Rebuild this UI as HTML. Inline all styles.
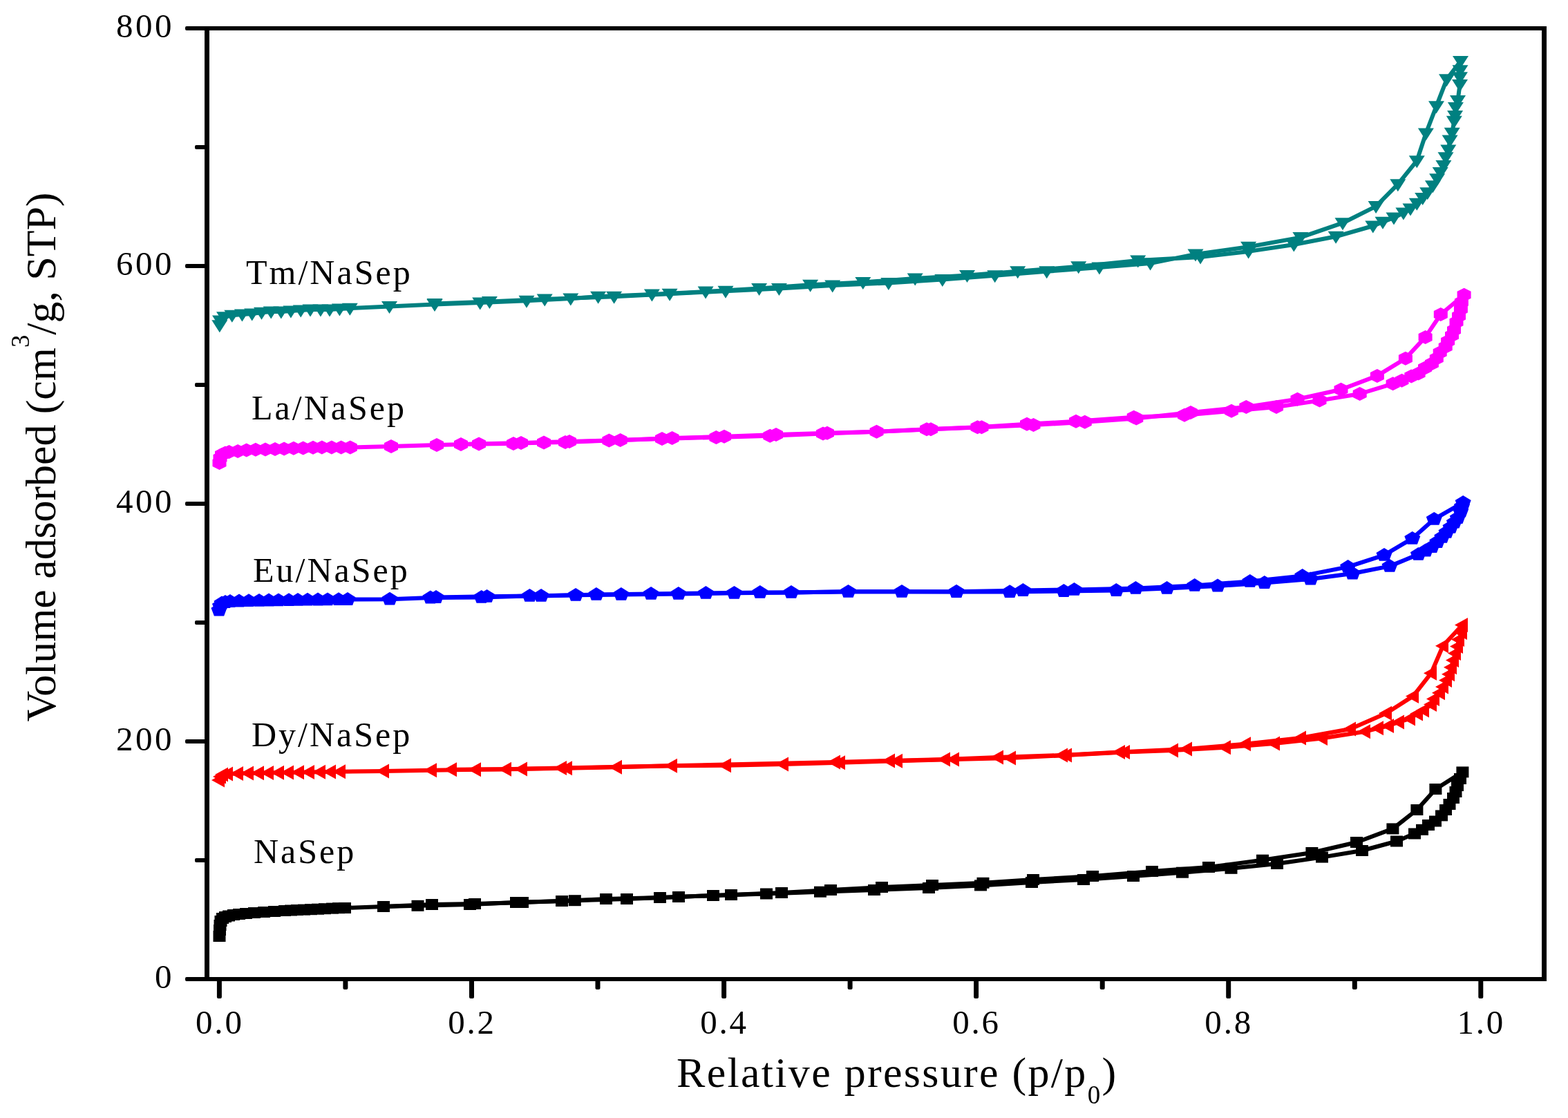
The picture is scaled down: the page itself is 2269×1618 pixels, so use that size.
<!DOCTYPE html>
<html><head><meta charset="utf-8"><title>N2 adsorption isotherms</title>
<style>html,body{margin:0;padding:0;background:#fff;}body{width:2269px;height:1618px;overflow:hidden;}</style>
</head><body>
<svg width="2269" height="1618" viewBox="0 0 2269 1618" style="display:block;font-family:'Liberation Serif', 'Times New Roman', serif"><rect x="296" y="38" width="7" height="1382" fill="#000"/>
<rect x="2231" y="38" width="7" height="1382" fill="#000"/>
<rect x="296" y="38" width="1942" height="6" fill="#000"/>
<rect x="296" y="1414" width="1942" height="6" fill="#000"/>
<rect x="268" y="1414.0" width="30" height="6" rx="2" fill="#000"/>
<rect x="282" y="1242.0" width="16" height="6" rx="2" fill="#000"/>
<rect x="268" y="1070.0" width="30" height="6" rx="2" fill="#000"/>
<rect x="282" y="898.0" width="16" height="6" rx="2" fill="#000"/>
<rect x="268" y="726.0" width="30" height="6" rx="2" fill="#000"/>
<rect x="282" y="554.0" width="16" height="6" rx="2" fill="#000"/>
<rect x="268" y="382.0" width="30" height="6" rx="2" fill="#000"/>
<rect x="282" y="210.0" width="16" height="6" rx="2" fill="#000"/>
<rect x="268" y="38.0" width="30" height="6" rx="2" fill="#000"/>
<rect x="313.9" y="1416" width="7" height="29" rx="2" fill="#000"/>
<rect x="496.4" y="1416" width="7" height="16" rx="2" fill="#000"/>
<rect x="679.0" y="1416" width="7" height="29" rx="2" fill="#000"/>
<rect x="861.5" y="1416" width="7" height="16" rx="2" fill="#000"/>
<rect x="1044.1" y="1416" width="7" height="29" rx="2" fill="#000"/>
<rect x="1226.6" y="1416" width="7" height="16" rx="2" fill="#000"/>
<rect x="1409.1" y="1416" width="7" height="29" rx="2" fill="#000"/>
<rect x="1591.7" y="1416" width="7" height="16" rx="2" fill="#000"/>
<rect x="1774.2" y="1416" width="7" height="29" rx="2" fill="#000"/>
<rect x="1956.8" y="1416" width="7" height="16" rx="2" fill="#000"/>
<rect x="2139.3" y="1416" width="7" height="29" rx="2" fill="#000"/>
<text x="252" y="1430.0" text-anchor="end" style="font-size:49px;letter-spacing:3.5px">0</text>
<text x="252" y="1086.0" text-anchor="end" style="font-size:49px;letter-spacing:3.5px">200</text>
<text x="252" y="742.0" text-anchor="end" style="font-size:49px;letter-spacing:3.5px">400</text>
<text x="252" y="398.0" text-anchor="end" style="font-size:49px;letter-spacing:3.5px">600</text>
<text x="252" y="54.0" text-anchor="end" style="font-size:49px;letter-spacing:3.5px">800</text>
<text x="317.9" y="1496" text-anchor="middle" style="font-size:49px;letter-spacing:2.8px">0.0</text>
<text x="683.0" y="1496" text-anchor="middle" style="font-size:49px;letter-spacing:2.8px">0.2</text>
<text x="1048.1" y="1496" text-anchor="middle" style="font-size:49px;letter-spacing:2.8px">0.4</text>
<text x="1413.1" y="1496" text-anchor="middle" style="font-size:49px;letter-spacing:2.8px">0.6</text>
<text x="1778.2" y="1496" text-anchor="middle" style="font-size:49px;letter-spacing:2.8px">0.8</text>
<text x="2143.3" y="1496" text-anchor="middle" style="font-size:49px;letter-spacing:2.8px">1.0</text>
<text x="979" y="1573" style="font-size:62px;letter-spacing:2.3px">Relative pressure (p/p<tspan dy="23.5" style="font-size:37px">0</tspan><tspan dy="-23.5">)</tspan></text>
<text transform="translate(80,1044.5) rotate(-90)" x="0" y="0" style="font-size:62px;letter-spacing:-0.08px">Volume adsorbed (cm<tspan dy="-38" style="font-size:37px">3</tspan><tspan dy="38">/g, STP)</tspan></text>
<text x="356" y="411" style="font-size:50px;letter-spacing:3px">Tm/NaSep</text>
<text x="364" y="607" style="font-size:50px;letter-spacing:3px">La/NaSep</text>
<text x="366" y="842" style="font-size:50px;letter-spacing:3px">Eu/NaSep</text>
<text x="364" y="1080" style="font-size:50px;letter-spacing:3px">Dy/NaSep</text>
<text x="367" y="1248.5" style="font-size:50px;letter-spacing:3px">NaSep</text>
<g fill="#000000" stroke="none">
<polyline points="317.5,1355 318,1346 318.5,1339 319.5,1333 322,1329 326,1327 331,1325.5 338,1324 346,1323 356,1322 368,1321 382,1320 397,1319 412,1318 421,1317.5 430,1317 440,1316.6 450,1316.2 460,1315.7 470,1315.2 481,1314.6 490,1314.2 499,1314 555,1312 604.5,1310.8 680,1309 747,1306 813,1304 877,1301 955,1299 1032,1296 1109,1293.5 1187,1290.7 1265,1288 1344,1285 1419,1281.4 1493,1277 1568,1273 1640,1268 1711,1262.7 1781.5,1256.8 1848,1250 1913,1240.6 1971,1231 2021,1217.5 2047,1206.5 2058,1200.8 2067,1194 2077,1188.5 2086,1180.4 2092,1172 2097.5,1164 2103,1155 2106.5,1146 2109,1137 2113,1127 2116.4,1117.4" fill="none" stroke="#000000" stroke-width="6" stroke-linejoin="round"/>
<polyline points="2116.4,1117.4 2077.4,1142 2050.4,1172 2015.4,1199.4 1963,1219 1898.4,1234 1827,1244.7 1749,1255 1667,1261 1581,1268 1495,1273 1422.5,1277.8 1349,1281 1276,1284 1202,1288 1131,1292 1058,1295 982,1298 907,1301 831.8,1303.2 756,1306 687,1308 625,1309 555,1312" fill="none" stroke="#000000" stroke-width="6" stroke-linejoin="round"/>
<polygon points="308.5,1347 326.5,1347 326.5,1363 308.5,1363"/>
<polygon points="309,1338 327,1338 327,1354 309,1354"/>
<polygon points="309.5,1331 327.5,1331 327.5,1347 309.5,1347"/>
<polygon points="310.5,1325 328.5,1325 328.5,1341 310.5,1341"/>
<polygon points="313,1321 331,1321 331,1337 313,1337"/>
<polygon points="317,1319 335,1319 335,1335 317,1335"/>
<polygon points="322,1317.5 340,1317.5 340,1333.5 322,1333.5"/>
<polygon points="329,1316 347,1316 347,1332 329,1332"/>
<polygon points="337,1315 355,1315 355,1331 337,1331"/>
<polygon points="347,1314 365,1314 365,1330 347,1330"/>
<polygon points="359,1313 377,1313 377,1329 359,1329"/>
<polygon points="373,1312 391,1312 391,1328 373,1328"/>
<polygon points="388,1311 406,1311 406,1327 388,1327"/>
<polygon points="403,1310 421,1310 421,1326 403,1326"/>
<polygon points="412,1309.5 430,1309.5 430,1325.5 412,1325.5"/>
<polygon points="421,1309 439,1309 439,1325 421,1325"/>
<polygon points="431,1308.6 449,1308.6 449,1324.6 431,1324.6"/>
<polygon points="441,1308.2 459,1308.2 459,1324.2 441,1324.2"/>
<polygon points="451,1307.7 469,1307.7 469,1323.7 451,1323.7"/>
<polygon points="461,1307.2 479,1307.2 479,1323.2 461,1323.2"/>
<polygon points="472,1306.6 490,1306.6 490,1322.6 472,1322.6"/>
<polygon points="481,1306.2 499,1306.2 499,1322.2 481,1322.2"/>
<polygon points="490,1306 508,1306 508,1322 490,1322"/>
<polygon points="546,1304 564,1304 564,1320 546,1320"/>
<polygon points="595.5,1302.8 613.5,1302.8 613.5,1318.8 595.5,1318.8"/>
<polygon points="671,1301 689,1301 689,1317 671,1317"/>
<polygon points="738,1298 756,1298 756,1314 738,1314"/>
<polygon points="804,1296 822,1296 822,1312 804,1312"/>
<polygon points="868,1293 886,1293 886,1309 868,1309"/>
<polygon points="946,1291 964,1291 964,1307 946,1307"/>
<polygon points="1023,1288 1041,1288 1041,1304 1023,1304"/>
<polygon points="1100,1285.5 1118,1285.5 1118,1301.5 1100,1301.5"/>
<polygon points="1178,1282.7 1196,1282.7 1196,1298.7 1178,1298.7"/>
<polygon points="1256,1280 1274,1280 1274,1296 1256,1296"/>
<polygon points="1335,1277 1353,1277 1353,1293 1335,1293"/>
<polygon points="1410,1273.4 1428,1273.4 1428,1289.4 1410,1289.4"/>
<polygon points="1484,1269 1502,1269 1502,1285 1484,1285"/>
<polygon points="1559,1265 1577,1265 1577,1281 1559,1281"/>
<polygon points="1631,1260 1649,1260 1649,1276 1631,1276"/>
<polygon points="1702,1254.7 1720,1254.7 1720,1270.7 1702,1270.7"/>
<polygon points="1772.5,1248.8 1790.5,1248.8 1790.5,1264.8 1772.5,1264.8"/>
<polygon points="1839,1242 1857,1242 1857,1258 1839,1258"/>
<polygon points="1904,1232.6 1922,1232.6 1922,1248.6 1904,1248.6"/>
<polygon points="1962,1223 1980,1223 1980,1239 1962,1239"/>
<polygon points="2012,1209.5 2030,1209.5 2030,1225.5 2012,1225.5"/>
<polygon points="2038,1198.5 2056,1198.5 2056,1214.5 2038,1214.5"/>
<polygon points="2049,1192.8 2067,1192.8 2067,1208.8 2049,1208.8"/>
<polygon points="2058,1186 2076,1186 2076,1202 2058,1202"/>
<polygon points="2068,1180.5 2086,1180.5 2086,1196.5 2068,1196.5"/>
<polygon points="2077,1172.4 2095,1172.4 2095,1188.4 2077,1188.4"/>
<polygon points="2083,1164 2101,1164 2101,1180 2083,1180"/>
<polygon points="2088.5,1156 2106.5,1156 2106.5,1172 2088.5,1172"/>
<polygon points="2094,1147 2112,1147 2112,1163 2094,1163"/>
<polygon points="2097.5,1138 2115.5,1138 2115.5,1154 2097.5,1154"/>
<polygon points="2100,1129 2118,1129 2118,1145 2100,1145"/>
<polygon points="2104,1119 2122,1119 2122,1135 2104,1135"/>
<polygon points="2107.4,1109.4 2125.4,1109.4 2125.4,1125.4 2107.4,1125.4"/>
<polygon points="2068.4,1134 2086.4,1134 2086.4,1150 2068.4,1150"/>
<polygon points="2041.4,1164 2059.4,1164 2059.4,1180 2041.4,1180"/>
<polygon points="2006.4,1191.4 2024.4,1191.4 2024.4,1207.4 2006.4,1207.4"/>
<polygon points="1954,1211 1972,1211 1972,1227 1954,1227"/>
<polygon points="1889.4,1226 1907.4,1226 1907.4,1242 1889.4,1242"/>
<polygon points="1818,1236.7 1836,1236.7 1836,1252.7 1818,1252.7"/>
<polygon points="1740,1247 1758,1247 1758,1263 1740,1263"/>
<polygon points="1658,1253 1676,1253 1676,1269 1658,1269"/>
<polygon points="1572,1260 1590,1260 1590,1276 1572,1276"/>
<polygon points="1486,1265 1504,1265 1504,1281 1486,1281"/>
<polygon points="1413.5,1269.8 1431.5,1269.8 1431.5,1285.8 1413.5,1285.8"/>
<polygon points="1340,1273 1358,1273 1358,1289 1340,1289"/>
<polygon points="1267,1276 1285,1276 1285,1292 1267,1292"/>
<polygon points="1193,1280 1211,1280 1211,1296 1193,1296"/>
<polygon points="1122,1284 1140,1284 1140,1300 1122,1300"/>
<polygon points="1049,1287 1067,1287 1067,1303 1049,1303"/>
<polygon points="973,1290 991,1290 991,1306 973,1306"/>
<polygon points="898,1293 916,1293 916,1309 898,1309"/>
<polygon points="822.8,1295.2 840.8,1295.2 840.8,1311.2 822.8,1311.2"/>
<polygon points="747,1298 765,1298 765,1314 747,1314"/>
<polygon points="678,1300 696,1300 696,1316 678,1316"/>
<polygon points="616,1301 634,1301 634,1317 616,1317"/>
</g>
<g fill="#ff0000" stroke="none">
<polyline points="317,1129 319,1124 322,1121 329,1120 344,1119.5 359,1119 374,1118.8 388,1118.5 403,1118.3 417,1118 432,1117.8 447,1117.6 463,1117.3 478,1117 492,1116.8 555,1115.9 624,1114.7 688,1113.8 755,1112.9 820,1111.8 892,1110.3 972,1108.2 1050,1107.8 1133,1105.9 1215,1103.7 1298,1101.3 1380,1099 1462,1096.9 1543,1093 1627,1088.5 1697,1086 1773,1081.7 1844,1075.9 1913,1068.5 1975,1058.8 1994,1053.8 2009,1050.5 2024,1045 2040,1040 2051,1033 2060,1028 2071,1019.6 2075,1011.6 2083,1002.7 2088,994 2093,984.6 2097,975.7 2100,965.7 2103,955.6 2106,945.6 2109,935.6 2111,925.6 2115,915.6 2116,904.5" fill="none" stroke="#ff0000" stroke-width="6" stroke-linejoin="round"/>
<polyline points="2116,904.5 2088,934.8 2071,974.2 2045,1007.4 2006,1032.2 1954,1055 1882,1068 1802,1076.8 1717,1084 1620,1088.5 1537,1093 1444,1095.9 1367,1099 1287,1100.9 1208,1103 812,1111.6 732,1113.2 653,1113.8" fill="none" stroke="#ff0000" stroke-width="6" stroke-linejoin="round"/>
<polygon points="306,1129 325,1118.5 325,1139.5"/>
<polygon points="308,1124 327,1113.5 327,1134.5"/>
<polygon points="311,1121 330,1110.5 330,1131.5"/>
<polygon points="318,1120 337,1109.5 337,1130.5"/>
<polygon points="333,1119.5 352,1109 352,1130"/>
<polygon points="348,1119 367,1108.5 367,1129.5"/>
<polygon points="363,1118.8 382,1108.3 382,1129.3"/>
<polygon points="377,1118.5 396,1108 396,1129"/>
<polygon points="392,1118.3 411,1107.8 411,1128.8"/>
<polygon points="406,1118 425,1107.5 425,1128.5"/>
<polygon points="421,1117.8 440,1107.3 440,1128.3"/>
<polygon points="436,1117.6 455,1107.1 455,1128.1"/>
<polygon points="452,1117.3 471,1106.8 471,1127.8"/>
<polygon points="467,1117 486,1106.5 486,1127.5"/>
<polygon points="481,1116.8 500,1106.3 500,1127.3"/>
<polygon points="544,1115.9 563,1105.4 563,1126.4"/>
<polygon points="613,1114.7 632,1104.2 632,1125.2"/>
<polygon points="677,1113.8 696,1103.3 696,1124.3"/>
<polygon points="744,1112.9 763,1102.4 763,1123.4"/>
<polygon points="809,1111.8 828,1101.3 828,1122.3"/>
<polygon points="881,1110.3 900,1099.8 900,1120.8"/>
<polygon points="961,1108.2 980,1097.7 980,1118.7"/>
<polygon points="1039,1107.8 1058,1097.3 1058,1118.3"/>
<polygon points="1122,1105.9 1141,1095.4 1141,1116.4"/>
<polygon points="1204,1103.7 1223,1093.2 1223,1114.2"/>
<polygon points="1287,1101.3 1306,1090.8 1306,1111.8"/>
<polygon points="1369,1099 1388,1088.5 1388,1109.5"/>
<polygon points="1451,1096.9 1470,1086.4 1470,1107.4"/>
<polygon points="1532,1093 1551,1082.5 1551,1103.5"/>
<polygon points="1616,1088.5 1635,1078 1635,1099"/>
<polygon points="1686,1086 1705,1075.5 1705,1096.5"/>
<polygon points="1762,1081.7 1781,1071.2 1781,1092.2"/>
<polygon points="1833,1075.9 1852,1065.4 1852,1086.4"/>
<polygon points="1902,1068.5 1921,1058 1921,1079"/>
<polygon points="1964,1058.8 1983,1048.3 1983,1069.3"/>
<polygon points="1983,1053.8 2002,1043.3 2002,1064.3"/>
<polygon points="1998,1050.5 2017,1040 2017,1061"/>
<polygon points="2013,1045 2032,1034.5 2032,1055.5"/>
<polygon points="2029,1040 2048,1029.5 2048,1050.5"/>
<polygon points="2040,1033 2059,1022.5 2059,1043.5"/>
<polygon points="2049,1028 2068,1017.5 2068,1038.5"/>
<polygon points="2060,1019.6 2079,1009.1 2079,1030.1"/>
<polygon points="2064,1011.6 2083,1001.1 2083,1022.1"/>
<polygon points="2072,1002.7 2091,992.2 2091,1013.2"/>
<polygon points="2077,994 2096,983.5 2096,1004.5"/>
<polygon points="2082,984.6 2101,974.1 2101,995.1"/>
<polygon points="2086,975.7 2105,965.2 2105,986.2"/>
<polygon points="2089,965.7 2108,955.2 2108,976.2"/>
<polygon points="2092,955.6 2111,945.1 2111,966.1"/>
<polygon points="2095,945.6 2114,935.1 2114,956.1"/>
<polygon points="2098,935.6 2117,925.1 2117,946.1"/>
<polygon points="2100,925.6 2119,915.1 2119,936.1"/>
<polygon points="2104,915.6 2123,905.1 2123,926.1"/>
<polygon points="2105,904.5 2124,894 2124,915"/>
<polygon points="2077,934.8 2096,924.3 2096,945.3"/>
<polygon points="2060,974.2 2079,963.7 2079,984.7"/>
<polygon points="2034,1007.4 2053,996.9 2053,1017.9"/>
<polygon points="1995,1032.2 2014,1021.7 2014,1042.7"/>
<polygon points="1943,1055 1962,1044.5 1962,1065.5"/>
<polygon points="1871,1068 1890,1057.5 1890,1078.5"/>
<polygon points="1791,1076.8 1810,1066.3 1810,1087.3"/>
<polygon points="1706,1084 1725,1073.5 1725,1094.5"/>
<polygon points="1609,1088.5 1628,1078 1628,1099"/>
<polygon points="1526,1093 1545,1082.5 1545,1103.5"/>
<polygon points="1433,1095.9 1452,1085.4 1452,1106.4"/>
<polygon points="1356,1099 1375,1088.5 1375,1109.5"/>
<polygon points="1276,1100.9 1295,1090.4 1295,1111.4"/>
<polygon points="1197,1103 1216,1092.5 1216,1113.5"/>
<polygon points="801,1111.6 820,1101.1 820,1122.1"/>
<polygon points="721,1113.2 740,1102.7 740,1123.7"/>
<polygon points="642,1113.8 661,1103.3 661,1124.3"/>
</g>
<g fill="#0000ff" stroke="none">
<polyline points="317,883 318.5,877 321,873 326,871.5 333,870.5 346,870 360,869.6 375,869.3 389,869 403,868.8 418,868.6 431,868.4 445,868.2 460,868 474,867.8 490,867.6 503,867.5 564,867.2 622.9,865 696.7,864.4 766.5,862.4 833.1,861.3 898.9,860.4 981.8,859.4 1062.5,858.3 1145,857.4 1227.5,856.3 1305,856.3 1384,856.5 1461.2,856.6 1539.4,855.5 1615.3,854.5 1688.6,851.4 1762,848 1829.8,843.5 1896.5,838 1957.2,830 2011,819.4 2052.4,802.4 2063,797 2072,791.6 2079.8,784.5 2086.8,777.4 2093,770.4 2099,763.3 2104.4,756.2 2109.3,749.6 2113.7,740 2115.5,733 2117.2,727.3" fill="none" stroke="#0000ff" stroke-width="6" stroke-linejoin="round"/>
<polyline points="2117.2,727.3 2075.3,751.3 2043.8,779.3 2003,803.3 1950.6,820.4 1884.7,833.4 1808.8,841.4 1728.7,847.4 1643.4,851.4 1554.5,853.4 1480.4,854.5 1384.1,856.3 1305,856.3 1227.5,856.3 1145,857.4 1099.8,857.4 1021.4,858.4 942.1,859.4 862.9,860.4 783.1,862.4 704.6,863.3 631,864.5" fill="none" stroke="#0000ff" stroke-width="6" stroke-linejoin="round"/>
<polygon points="317,872.6 328.5,879.8 324.1,891.4 309.9,891.4 305.5,879.8"/>
<polygon points="318.5,866.6 330,873.8 325.6,885.4 311.4,885.4 307,873.8"/>
<polygon points="321,862.6 332.5,869.8 328.1,881.4 313.9,881.4 309.5,869.8"/>
<polygon points="326,861.1 337.5,868.3 333.1,879.9 318.9,879.9 314.5,868.3"/>
<polygon points="333,860.1 344.5,867.3 340.1,878.9 325.9,878.9 321.5,867.3"/>
<polygon points="346,859.6 357.5,866.8 353.1,878.4 338.9,878.4 334.5,866.8"/>
<polygon points="360,859.2 371.5,866.4 367.1,878 352.9,878 348.5,866.4"/>
<polygon points="375,858.9 386.5,866.1 382.1,877.7 367.9,877.7 363.5,866.1"/>
<polygon points="389,858.6 400.5,865.8 396.1,877.4 381.9,877.4 377.5,865.8"/>
<polygon points="403,858.4 414.5,865.6 410.1,877.2 395.9,877.2 391.5,865.6"/>
<polygon points="418,858.2 429.5,865.4 425.1,877 410.9,877 406.5,865.4"/>
<polygon points="431,858 442.5,865.2 438.1,876.8 423.9,876.8 419.5,865.2"/>
<polygon points="445,857.8 456.5,865 452.1,876.6 437.9,876.6 433.5,865"/>
<polygon points="460,857.6 471.5,864.8 467.1,876.4 452.9,876.4 448.5,864.8"/>
<polygon points="474,857.4 485.5,864.6 481.1,876.2 466.9,876.2 462.5,864.6"/>
<polygon points="490,857.2 501.5,864.4 497.1,876 482.9,876 478.5,864.4"/>
<polygon points="503,857.1 514.5,864.3 510.1,875.9 495.9,875.9 491.5,864.3"/>
<polygon points="564,856.8 575.5,864 571.1,875.6 556.9,875.6 552.5,864"/>
<polygon points="622.9,854.6 634.4,861.8 630,873.4 615.8,873.4 611.4,861.8"/>
<polygon points="696.7,854 708.2,861.2 703.8,872.8 689.6,872.8 685.2,861.2"/>
<polygon points="766.5,852 778,859.2 773.6,870.8 759.4,870.8 755,859.2"/>
<polygon points="833.1,850.9 844.6,858.1 840.2,869.7 826,869.7 821.6,858.1"/>
<polygon points="898.9,850 910.4,857.2 906,868.8 891.8,868.8 887.4,857.2"/>
<polygon points="981.8,849 993.3,856.2 988.9,867.8 974.7,867.8 970.3,856.2"/>
<polygon points="1062.5,847.9 1074,855.1 1069.6,866.7 1055.4,866.7 1051,855.1"/>
<polygon points="1145,847 1156.5,854.2 1152.1,865.8 1137.9,865.8 1133.5,854.2"/>
<polygon points="1227.5,845.9 1239,853.1 1234.6,864.7 1220.4,864.7 1216,853.1"/>
<polygon points="1305,845.9 1316.5,853.1 1312.1,864.7 1297.9,864.7 1293.5,853.1"/>
<polygon points="1384,846.1 1395.5,853.3 1391.1,864.9 1376.9,864.9 1372.5,853.3"/>
<polygon points="1461.2,846.2 1472.7,853.4 1468.3,865 1454.1,865 1449.7,853.4"/>
<polygon points="1539.4,845.1 1550.9,852.3 1546.5,863.9 1532.3,863.9 1527.9,852.3"/>
<polygon points="1615.3,844.1 1626.8,851.3 1622.4,862.9 1608.2,862.9 1603.8,851.3"/>
<polygon points="1688.6,841 1700.1,848.2 1695.7,859.8 1681.5,859.8 1677.1,848.2"/>
<polygon points="1762,837.6 1773.5,844.8 1769.1,856.4 1754.9,856.4 1750.5,844.8"/>
<polygon points="1829.8,833.1 1841.3,840.3 1836.9,851.9 1822.7,851.9 1818.3,840.3"/>
<polygon points="1896.5,827.6 1908,834.8 1903.6,846.4 1889.4,846.4 1885,834.8"/>
<polygon points="1957.2,819.6 1968.7,826.8 1964.3,838.4 1950.1,838.4 1945.7,826.8"/>
<polygon points="2011,809 2022.5,816.2 2018.1,827.8 2003.9,827.8 1999.5,816.2"/>
<polygon points="2052.4,792 2063.9,799.2 2059.5,810.8 2045.3,810.8 2040.9,799.2"/>
<polygon points="2063,786.6 2074.5,793.8 2070.1,805.4 2055.9,805.4 2051.5,793.8"/>
<polygon points="2072,781.2 2083.5,788.4 2079.1,800 2064.9,800 2060.5,788.4"/>
<polygon points="2079.8,774.1 2091.3,781.3 2086.9,792.9 2072.7,792.9 2068.3,781.3"/>
<polygon points="2086.8,767 2098.3,774.2 2093.9,785.8 2079.7,785.8 2075.3,774.2"/>
<polygon points="2093,760 2104.5,767.2 2100.1,778.8 2085.9,778.8 2081.5,767.2"/>
<polygon points="2099,752.9 2110.5,760.1 2106.1,771.7 2091.9,771.7 2087.5,760.1"/>
<polygon points="2104.4,745.8 2115.9,753 2111.5,764.6 2097.3,764.6 2092.9,753"/>
<polygon points="2109.3,739.2 2120.8,746.4 2116.4,758 2102.2,758 2097.8,746.4"/>
<polygon points="2113.7,729.6 2125.2,736.8 2120.8,748.4 2106.6,748.4 2102.2,736.8"/>
<polygon points="2115.5,722.6 2127,729.8 2122.6,741.4 2108.4,741.4 2104,729.8"/>
<polygon points="2117.2,716.9 2128.7,724.1 2124.3,735.7 2110.1,735.7 2105.7,724.1"/>
<polygon points="2075.3,740.9 2086.8,748.1 2082.4,759.7 2068.2,759.7 2063.8,748.1"/>
<polygon points="2043.8,768.9 2055.3,776.1 2050.9,787.7 2036.7,787.7 2032.3,776.1"/>
<polygon points="2003,792.9 2014.5,800.1 2010.1,811.7 1995.9,811.7 1991.5,800.1"/>
<polygon points="1950.6,810 1962.1,817.2 1957.7,828.8 1943.5,828.8 1939.1,817.2"/>
<polygon points="1884.7,823 1896.2,830.2 1891.8,841.8 1877.6,841.8 1873.2,830.2"/>
<polygon points="1808.8,831 1820.3,838.2 1815.9,849.8 1801.7,849.8 1797.3,838.2"/>
<polygon points="1728.7,837 1740.2,844.2 1735.8,855.8 1721.6,855.8 1717.2,844.2"/>
<polygon points="1643.4,841 1654.9,848.2 1650.5,859.8 1636.3,859.8 1631.9,848.2"/>
<polygon points="1554.5,843 1566,850.2 1561.6,861.8 1547.4,861.8 1543,850.2"/>
<polygon points="1480.4,844.1 1491.9,851.3 1487.5,862.9 1473.3,862.9 1468.9,851.3"/>
<polygon points="1384.1,845.9 1395.6,853.1 1391.2,864.7 1377,864.7 1372.6,853.1"/>
<polygon points="1099.8,847 1111.3,854.2 1106.9,865.8 1092.7,865.8 1088.3,854.2"/>
<polygon points="1021.4,848 1032.9,855.2 1028.5,866.8 1014.3,866.8 1009.9,855.2"/>
<polygon points="942.1,849 953.6,856.2 949.2,867.8 935,867.8 930.6,856.2"/>
<polygon points="862.9,850 874.4,857.2 870,868.8 855.8,868.8 851.4,857.2"/>
<polygon points="783.1,852 794.6,859.2 790.2,870.8 776,870.8 771.6,859.2"/>
<polygon points="704.6,852.9 716.1,860.1 711.7,871.7 697.5,871.7 693.1,860.1"/>
<polygon points="631,854.1 642.5,861.3 638.1,872.9 623.9,872.9 619.5,861.3"/>
</g>
<g fill="#ff00ff" stroke="none">
<polyline points="317.5,670 318.5,663 321,658 326,655.5 331.5,654 344.1,653 356.7,651.5 369.9,650.8 384,650.5 398,650.1 411.1,649.5 424.9,648.8 438.7,648.4 453,647.8 465.8,647.6 479.9,647.5 493.7,647.5 506.8,647.5 566,646 632,643.9 693,642.4 743,642 787,640.5 818,640 881.4,637.5 958,634.9 1036.4,632.9 1114.3,630.8 1191,627.5 1268.5,624.8 1341,621.3 1414.5,618.3 1486,613.8 1557,609.8 1640.7,603.8 1714,600.8 1782,594.7 1847,589 1909.5,579.6 1967.7,570 2015.6,555.3 2028.5,550.8 2042.3,544.4 2052.6,540.5 2062,532.6 2071.9,526.2 2078.8,518.7 2083.7,510.3 2091.7,501.9 2095.1,494 2101,485.6 2104,477.7 2107.5,466.3 2111,457.4 2113.9,447.5 2114.9,437.6 2118.6,426.8" fill="none" stroke="#ff00ff" stroke-width="6" stroke-linejoin="round"/>
<polyline points="2118.6,426.8 2084.8,455 2062.6,487.9 2033.9,518.8 1992.9,543.9 1940.5,563.8 1877.5,577.8 1803.3,589 1723,597 1644.3,605.5 1569.8,610.8 1495.5,615 1420.5,618.3 1347,621.3 1268.5,624.8 1197,626.7 1123,629.1 1048,631.8 972.6,634 897.7,637 824,639 754,641 667,643" fill="none" stroke="#ff00ff" stroke-width="6" stroke-linejoin="round"/>
<polygon points="317.5,660 327.5,665 327.5,675 317.5,680 307.5,675 307.5,665"/>
<polygon points="318.5,653 328.5,658 328.5,668 318.5,673 308.5,668 308.5,658"/>
<polygon points="321,648 331,653 331,663 321,668 311,663 311,653"/>
<polygon points="326,645.5 336,650.5 336,660.5 326,665.5 316,660.5 316,650.5"/>
<polygon points="331.5,644 341.5,649 341.5,659 331.5,664 321.5,659 321.5,649"/>
<polygon points="344.1,643 354.1,648 354.1,658 344.1,663 334.1,658 334.1,648"/>
<polygon points="356.7,641.5 366.7,646.5 366.7,656.5 356.7,661.5 346.7,656.5 346.7,646.5"/>
<polygon points="369.9,640.8 379.9,645.8 379.9,655.8 369.9,660.8 359.9,655.8 359.9,645.8"/>
<polygon points="384,640.5 394,645.5 394,655.5 384,660.5 374,655.5 374,645.5"/>
<polygon points="398,640.1 408,645.1 408,655.1 398,660.1 388,655.1 388,645.1"/>
<polygon points="411.1,639.5 421.1,644.5 421.1,654.5 411.1,659.5 401.1,654.5 401.1,644.5"/>
<polygon points="424.9,638.8 434.9,643.8 434.9,653.8 424.9,658.8 414.9,653.8 414.9,643.8"/>
<polygon points="438.7,638.4 448.7,643.4 448.7,653.4 438.7,658.4 428.7,653.4 428.7,643.4"/>
<polygon points="453,637.8 463,642.8 463,652.8 453,657.8 443,652.8 443,642.8"/>
<polygon points="465.8,637.6 475.8,642.6 475.8,652.6 465.8,657.6 455.8,652.6 455.8,642.6"/>
<polygon points="479.9,637.5 489.9,642.5 489.9,652.5 479.9,657.5 469.9,652.5 469.9,642.5"/>
<polygon points="493.7,637.5 503.7,642.5 503.7,652.5 493.7,657.5 483.7,652.5 483.7,642.5"/>
<polygon points="506.8,637.5 516.8,642.5 516.8,652.5 506.8,657.5 496.8,652.5 496.8,642.5"/>
<polygon points="566,636 576,641 576,651 566,656 556,651 556,641"/>
<polygon points="632,633.9 642,638.9 642,648.9 632,653.9 622,648.9 622,638.9"/>
<polygon points="693,632.4 703,637.4 703,647.4 693,652.4 683,647.4 683,637.4"/>
<polygon points="743,632 753,637 753,647 743,652 733,647 733,637"/>
<polygon points="787,630.5 797,635.5 797,645.5 787,650.5 777,645.5 777,635.5"/>
<polygon points="818,630 828,635 828,645 818,650 808,645 808,635"/>
<polygon points="881.4,627.5 891.4,632.5 891.4,642.5 881.4,647.5 871.4,642.5 871.4,632.5"/>
<polygon points="958,624.9 968,629.9 968,639.9 958,644.9 948,639.9 948,629.9"/>
<polygon points="1036.4,622.9 1046.4,627.9 1046.4,637.9 1036.4,642.9 1026.4,637.9 1026.4,627.9"/>
<polygon points="1114.3,620.8 1124.3,625.8 1124.3,635.8 1114.3,640.8 1104.3,635.8 1104.3,625.8"/>
<polygon points="1191,617.5 1201,622.5 1201,632.5 1191,637.5 1181,632.5 1181,622.5"/>
<polygon points="1268.5,614.8 1278.5,619.8 1278.5,629.8 1268.5,634.8 1258.5,629.8 1258.5,619.8"/>
<polygon points="1341,611.3 1351,616.3 1351,626.3 1341,631.3 1331,626.3 1331,616.3"/>
<polygon points="1414.5,608.3 1424.5,613.3 1424.5,623.3 1414.5,628.3 1404.5,623.3 1404.5,613.3"/>
<polygon points="1486,603.8 1496,608.8 1496,618.8 1486,623.8 1476,618.8 1476,608.8"/>
<polygon points="1557,599.8 1567,604.8 1567,614.8 1557,619.8 1547,614.8 1547,604.8"/>
<polygon points="1640.7,593.8 1650.7,598.8 1650.7,608.8 1640.7,613.8 1630.7,608.8 1630.7,598.8"/>
<polygon points="1714,590.8 1724,595.8 1724,605.8 1714,610.8 1704,605.8 1704,595.8"/>
<polygon points="1782,584.7 1792,589.7 1792,599.7 1782,604.7 1772,599.7 1772,589.7"/>
<polygon points="1847,579 1857,584 1857,594 1847,599 1837,594 1837,584"/>
<polygon points="1909.5,569.6 1919.5,574.6 1919.5,584.6 1909.5,589.6 1899.5,584.6 1899.5,574.6"/>
<polygon points="1967.7,560 1977.7,565 1977.7,575 1967.7,580 1957.7,575 1957.7,565"/>
<polygon points="2015.6,545.3 2025.6,550.3 2025.6,560.3 2015.6,565.3 2005.6,560.3 2005.6,550.3"/>
<polygon points="2028.5,540.8 2038.5,545.8 2038.5,555.8 2028.5,560.8 2018.5,555.8 2018.5,545.8"/>
<polygon points="2042.3,534.4 2052.3,539.4 2052.3,549.4 2042.3,554.4 2032.3,549.4 2032.3,539.4"/>
<polygon points="2052.6,530.5 2062.6,535.5 2062.6,545.5 2052.6,550.5 2042.6,545.5 2042.6,535.5"/>
<polygon points="2062,522.6 2072,527.6 2072,537.6 2062,542.6 2052,537.6 2052,527.6"/>
<polygon points="2071.9,516.2 2081.9,521.2 2081.9,531.2 2071.9,536.2 2061.9,531.2 2061.9,521.2"/>
<polygon points="2078.8,508.7 2088.8,513.7 2088.8,523.7 2078.8,528.7 2068.8,523.7 2068.8,513.7"/>
<polygon points="2083.7,500.3 2093.7,505.3 2093.7,515.3 2083.7,520.3 2073.7,515.3 2073.7,505.3"/>
<polygon points="2091.7,491.9 2101.7,496.9 2101.7,506.9 2091.7,511.9 2081.7,506.9 2081.7,496.9"/>
<polygon points="2095.1,484 2105.1,489 2105.1,499 2095.1,504 2085.1,499 2085.1,489"/>
<polygon points="2101,475.6 2111,480.6 2111,490.6 2101,495.6 2091,490.6 2091,480.6"/>
<polygon points="2104,467.7 2114,472.7 2114,482.7 2104,487.7 2094,482.7 2094,472.7"/>
<polygon points="2107.5,456.3 2117.5,461.3 2117.5,471.3 2107.5,476.3 2097.5,471.3 2097.5,461.3"/>
<polygon points="2111,447.4 2121,452.4 2121,462.4 2111,467.4 2101,462.4 2101,452.4"/>
<polygon points="2113.9,437.5 2123.9,442.5 2123.9,452.5 2113.9,457.5 2103.9,452.5 2103.9,442.5"/>
<polygon points="2114.9,427.6 2124.9,432.6 2124.9,442.6 2114.9,447.6 2104.9,442.6 2104.9,432.6"/>
<polygon points="2118.6,416.8 2128.6,421.8 2128.6,431.8 2118.6,436.8 2108.6,431.8 2108.6,421.8"/>
<polygon points="2084.8,445 2094.8,450 2094.8,460 2084.8,465 2074.8,460 2074.8,450"/>
<polygon points="2062.6,477.9 2072.6,482.9 2072.6,492.9 2062.6,497.9 2052.6,492.9 2052.6,482.9"/>
<polygon points="2033.9,508.8 2043.9,513.8 2043.9,523.8 2033.9,528.8 2023.9,523.8 2023.9,513.8"/>
<polygon points="1992.9,533.9 2002.9,538.9 2002.9,548.9 1992.9,553.9 1982.9,548.9 1982.9,538.9"/>
<polygon points="1940.5,553.8 1950.5,558.8 1950.5,568.8 1940.5,573.8 1930.5,568.8 1930.5,558.8"/>
<polygon points="1877.5,567.8 1887.5,572.8 1887.5,582.8 1877.5,587.8 1867.5,582.8 1867.5,572.8"/>
<polygon points="1803.3,579 1813.3,584 1813.3,594 1803.3,599 1793.3,594 1793.3,584"/>
<polygon points="1723,587 1733,592 1733,602 1723,607 1713,602 1713,592"/>
<polygon points="1644.3,595.5 1654.3,600.5 1654.3,610.5 1644.3,615.5 1634.3,610.5 1634.3,600.5"/>
<polygon points="1569.8,600.8 1579.8,605.8 1579.8,615.8 1569.8,620.8 1559.8,615.8 1559.8,605.8"/>
<polygon points="1495.5,605 1505.5,610 1505.5,620 1495.5,625 1485.5,620 1485.5,610"/>
<polygon points="1420.5,608.3 1430.5,613.3 1430.5,623.3 1420.5,628.3 1410.5,623.3 1410.5,613.3"/>
<polygon points="1347,611.3 1357,616.3 1357,626.3 1347,631.3 1337,626.3 1337,616.3"/>
<polygon points="1197,616.7 1207,621.7 1207,631.7 1197,636.7 1187,631.7 1187,621.7"/>
<polygon points="1123,619.1 1133,624.1 1133,634.1 1123,639.1 1113,634.1 1113,624.1"/>
<polygon points="1048,621.8 1058,626.8 1058,636.8 1048,641.8 1038,636.8 1038,626.8"/>
<polygon points="972.6,624 982.6,629 982.6,639 972.6,644 962.6,639 962.6,629"/>
<polygon points="897.7,627 907.7,632 907.7,642 897.7,647 887.7,642 887.7,632"/>
<polygon points="824,629 834,634 834,644 824,649 814,644 814,634"/>
<polygon points="754,631 764,636 764,646 754,651 744,646 744,636"/>
<polygon points="667,633 677,638 677,648 667,653 657,648 657,638"/>
</g>
<g fill="#008080" stroke="none">
<polyline points="317.8,470.7 318.5,463.9 324.5,458.7 335.8,456.2 350.4,455 364.7,453.9 378.5,452.2 392.2,451 406.8,451 420.9,449.9 435.2,449.1 449,448.1 463.9,448.1 477,447.9 491.4,447 506.3,446.2 563.5,443.5 629,440.5 694.7,438.1 762,435.2 825.8,432 865.6,429.2 943.4,426 1021.1,422 1098.6,417.4 1172.6,412.3 1248.8,408.4 1324.2,403.1 1399.5,398.4 1472.7,392.8 1560.7,385.8 1646.7,376.9 1737.1,371.9 1806.6,363.9 1872.3,354 1933.1,342.3 1986.8,327 2001,321.3 2017,315 2030.9,308 2041,302 2050.3,294.2 2058.7,286.5 2065.7,278.8 2073.4,268.8 2079.6,258.7 2084.2,249.4 2088.9,239.4 2092,227.8 2095.8,217 2098.1,203.1 2101.2,192.3 2104.3,175.3 2105.6,167.6 2106.4,155.6 2109.5,145.6 2112.5,122.5 2112.5,111.7 2113,101.7 2113.5,88.6" fill="none" stroke="#008080" stroke-width="6" stroke-linejoin="round"/>
<polyline points="2113.5,88.6 2093.5,114.8 2078.5,153.7 2063.4,193 2050.3,232.7 2022.8,266.7 1991.1,298.6 1943,322.7 1881.9,343.6 1806.6,357.2 1730,367.9 1664.6,381.1 1590.9,386.9 1514.7,392.8 1439.7,398.8 1363.8,404.4 1285.8,409.5 1204.7,413.1 1127.4,417.4 1050,421.2 969.1,425.2 888.6,429.2 788.2,433.1 708.4,436.4 629,439.4" fill="none" stroke="#008080" stroke-width="6" stroke-linejoin="round"/>
<polygon points="306.3,463.2 329.3,463.2 317.8,481.2"/>
<polygon points="307,456.4 330,456.4 318.5,474.4"/>
<polygon points="313,451.2 336,451.2 324.5,469.2"/>
<polygon points="324.3,448.7 347.3,448.7 335.8,466.7"/>
<polygon points="338.9,447.5 361.9,447.5 350.4,465.5"/>
<polygon points="353.2,446.4 376.2,446.4 364.7,464.4"/>
<polygon points="367,444.7 390,444.7 378.5,462.7"/>
<polygon points="380.7,443.5 403.7,443.5 392.2,461.5"/>
<polygon points="395.3,443.5 418.3,443.5 406.8,461.5"/>
<polygon points="409.4,442.4 432.4,442.4 420.9,460.4"/>
<polygon points="423.7,441.6 446.7,441.6 435.2,459.6"/>
<polygon points="437.5,440.6 460.5,440.6 449,458.6"/>
<polygon points="452.4,440.6 475.4,440.6 463.9,458.6"/>
<polygon points="465.5,440.4 488.5,440.4 477,458.4"/>
<polygon points="479.9,439.5 502.9,439.5 491.4,457.5"/>
<polygon points="494.8,438.7 517.8,438.7 506.3,456.7"/>
<polygon points="552,436 575,436 563.5,454"/>
<polygon points="617.5,433 640.5,433 629,451"/>
<polygon points="683.2,430.6 706.2,430.6 694.7,448.6"/>
<polygon points="750.5,427.7 773.5,427.7 762,445.7"/>
<polygon points="814.3,424.5 837.3,424.5 825.8,442.5"/>
<polygon points="854.1,421.7 877.1,421.7 865.6,439.7"/>
<polygon points="931.9,418.5 954.9,418.5 943.4,436.5"/>
<polygon points="1009.6,414.5 1032.6,414.5 1021.1,432.5"/>
<polygon points="1087.1,409.9 1110.1,409.9 1098.6,427.9"/>
<polygon points="1161.1,404.8 1184.1,404.8 1172.6,422.8"/>
<polygon points="1237.3,400.9 1260.3,400.9 1248.8,418.9"/>
<polygon points="1312.7,395.6 1335.7,395.6 1324.2,413.6"/>
<polygon points="1388,390.9 1411,390.9 1399.5,408.9"/>
<polygon points="1461.2,385.3 1484.2,385.3 1472.7,403.3"/>
<polygon points="1549.2,378.3 1572.2,378.3 1560.7,396.3"/>
<polygon points="1635.2,369.4 1658.2,369.4 1646.7,387.4"/>
<polygon points="1725.6,364.4 1748.6,364.4 1737.1,382.4"/>
<polygon points="1795.1,356.4 1818.1,356.4 1806.6,374.4"/>
<polygon points="1860.8,346.5 1883.8,346.5 1872.3,364.5"/>
<polygon points="1921.6,334.8 1944.6,334.8 1933.1,352.8"/>
<polygon points="1975.3,319.5 1998.3,319.5 1986.8,337.5"/>
<polygon points="1989.5,313.8 2012.5,313.8 2001,331.8"/>
<polygon points="2005.5,307.5 2028.5,307.5 2017,325.5"/>
<polygon points="2019.4,300.5 2042.4,300.5 2030.9,318.5"/>
<polygon points="2029.5,294.5 2052.5,294.5 2041,312.5"/>
<polygon points="2038.8,286.7 2061.8,286.7 2050.3,304.7"/>
<polygon points="2047.2,279 2070.2,279 2058.7,297"/>
<polygon points="2054.2,271.3 2077.2,271.3 2065.7,289.3"/>
<polygon points="2061.9,261.3 2084.9,261.3 2073.4,279.3"/>
<polygon points="2068.1,251.2 2091.1,251.2 2079.6,269.2"/>
<polygon points="2072.7,241.9 2095.7,241.9 2084.2,259.9"/>
<polygon points="2077.4,231.9 2100.4,231.9 2088.9,249.9"/>
<polygon points="2080.5,220.3 2103.5,220.3 2092,238.3"/>
<polygon points="2084.3,209.5 2107.3,209.5 2095.8,227.5"/>
<polygon points="2086.6,195.6 2109.6,195.6 2098.1,213.6"/>
<polygon points="2089.7,184.8 2112.7,184.8 2101.2,202.8"/>
<polygon points="2092.8,167.8 2115.8,167.8 2104.3,185.8"/>
<polygon points="2094.1,160.1 2117.1,160.1 2105.6,178.1"/>
<polygon points="2094.9,148.1 2117.9,148.1 2106.4,166.1"/>
<polygon points="2098,138.1 2121,138.1 2109.5,156.1"/>
<polygon points="2101,115 2124,115 2112.5,133"/>
<polygon points="2101,104.2 2124,104.2 2112.5,122.2"/>
<polygon points="2101.5,94.2 2124.5,94.2 2113,112.2"/>
<polygon points="2102,81.1 2125,81.1 2113.5,99.1"/>
<polygon points="2082,107.3 2105,107.3 2093.5,125.3"/>
<polygon points="2067,146.2 2090,146.2 2078.5,164.2"/>
<polygon points="2051.9,185.5 2074.9,185.5 2063.4,203.5"/>
<polygon points="2038.8,225.2 2061.8,225.2 2050.3,243.2"/>
<polygon points="2011.3,259.2 2034.3,259.2 2022.8,277.2"/>
<polygon points="1979.6,291.1 2002.6,291.1 1991.1,309.1"/>
<polygon points="1931.5,315.2 1954.5,315.2 1943,333.2"/>
<polygon points="1870.4,336.1 1893.4,336.1 1881.9,354.1"/>
<polygon points="1795.1,349.7 1818.1,349.7 1806.6,367.7"/>
<polygon points="1718.5,360.4 1741.5,360.4 1730,378.4"/>
<polygon points="1653.1,373.6 1676.1,373.6 1664.6,391.6"/>
<polygon points="1579.4,379.4 1602.4,379.4 1590.9,397.4"/>
<polygon points="1503.2,385.3 1526.2,385.3 1514.7,403.3"/>
<polygon points="1428.2,391.3 1451.2,391.3 1439.7,409.3"/>
<polygon points="1352.3,396.9 1375.3,396.9 1363.8,414.9"/>
<polygon points="1274.3,402 1297.3,402 1285.8,420"/>
<polygon points="1193.2,405.6 1216.2,405.6 1204.7,423.6"/>
<polygon points="1115.9,409.9 1138.9,409.9 1127.4,427.9"/>
<polygon points="1038.5,413.7 1061.5,413.7 1050,431.7"/>
<polygon points="957.6,417.7 980.6,417.7 969.1,435.7"/>
<polygon points="877.1,421.7 900.1,421.7 888.6,439.7"/>
<polygon points="776.7,425.6 799.7,425.6 788.2,443.6"/>
<polygon points="696.9,428.9 719.9,428.9 708.4,446.9"/>
<polygon points="617.5,431.9 640.5,431.9 629,449.9"/>
</g></svg>
</body></html>
